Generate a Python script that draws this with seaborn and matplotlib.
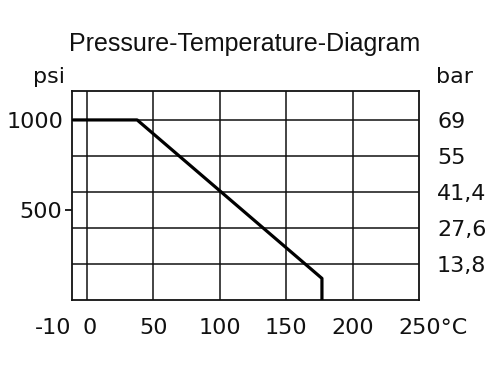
import matplotlib
matplotlib.use("Agg")
import matplotlib.pyplot as plt
import matplotlib.transforms as mtransforms
import seaborn as sns
import pandas as pd

# data
temp_c = [-10, 38, 177, 177]
pressure_psi = [1000, 1000, 120, 0]
x_ticks = [-10, 0, 50, 100, 150, 200, 250]
x_labels = ["-10", "0", "50", "100", "150", "200", "250°C"]
psi_ticks = [500]
psi_labels = ["500"]
bar_ticks_psi = [1000, 800, 600, 400, 200]
bar_labels = ["69", "55", "41,4", "27,6", "13,8"]

sns.set_style("white")
plt.rcParams['font.family'] = ['DejaVu Sans']
plt.rcParams['text.color'] = '#111111'
plt.rcParams['xtick.color'] = '#111111'
plt.rcParams['ytick.color'] = '#111111'

fig = plt.figure(figsize=(5, 3.75), dpi=100)
ax = fig.add_axes([0.144, 0.2, 0.694, 0.557])

df = pd.DataFrame({"temp": temp_c, "psi": pressure_psi})
sns.lineplot(data=df, x="temp", y="psi", sort=False, estimator=None,
             color="black", linewidth=2.3, ax=ax, zorder=5)

ax.set_xlim(-11, 250)
ax.set_ylim(0, 1160)
ax.set_xlabel("")
ax.set_ylabel("")

# grid lines
for v in [0, 50, 100, 150, 200]:
    ax.axvline(v, color="#111111", linewidth=1.1, zorder=1)
for h in bar_ticks_psi:
    ax.axhline(h, color="#111111", linewidth=1.1, zorder=1)

for s in ax.spines.values():
    s.set_color("#111111")
    s.set_linewidth(1.3)

fs = 16
ax.set_xticks(x_ticks)
ax.set_xticklabels(x_labels, fontsize=fs)
ax.tick_params(axis="x", length=0, pad=13)
offsets = {0: -20, 1: 3, 6: 14}
for i, lab in enumerate(ax.get_xticklabels()):
    if i in offsets:
        lab.set_transform(lab.get_transform() + mtransforms.ScaledTranslation(offsets[i] / 100, 0, fig.dpi_scale_trans))

ax.set_yticks(psi_ticks)
ax.set_yticklabels(psi_labels, fontsize=fs)
ax.set_yticks([1000], minor=True)
ax.set_yticklabels(["1000"], minor=True, fontsize=fs)
ax.tick_params(axis="y", which="major", length=5, width=1.3, pad=2, color="#111111", left=True)
ax.tick_params(axis="y", which="minor", length=0, pad=6, left=True)

ax2 = ax.twinx()
ax2.set_ylim(ax.get_ylim())
ax2.set_yticks(bar_ticks_psi)
ax2.set_yticklabels(bar_labels, fontsize=fs)
ax2.tick_params(axis="y", length=0, pad=13)
for s in ax2.spines.values():
    s.set_visible(False)

fig.text(0.098, 0.795, "psi", fontsize=fs, ha="center", va="center")
fig.text(0.908, 0.795, "bar", fontsize=fs, ha="center", va="center")
fig.text(0.49, 0.882, "Pressure-Temperature-Diagram", fontsize=18,
         family="Liberation Sans", ha="center", va="center")

fig.savefig("out.png", dpi=100)
